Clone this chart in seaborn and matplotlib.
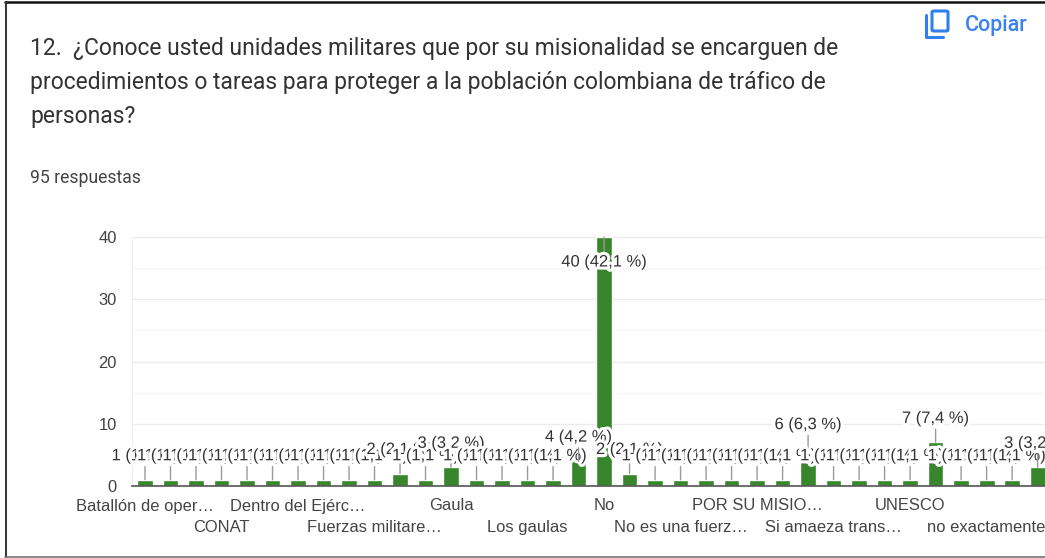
import matplotlib
matplotlib.use("Agg")
import matplotlib.pyplot as plt
import matplotlib.patheffects as pe
from matplotlib.patches import FancyBboxPatch
from matplotlib.lines import Line2D
import pandas as pd
import seaborn as sns

# ---- data -------------------------------------------------------------
TOTAL = 95
positions = list(range(36))
counts = [1, 1, 1, 1, 1, 1, 1, 1, 1, 1, 2, 1, 3, 1, 1, 1, 1, 4,
          40, 2, 1, 1, 1, 1, 1, 1, 6, 1, 1, 1, 1, 7, 1, 1, 1, 3]
label_pos = [0, 3, 6, 9, 12, 15, 18, 21, 24, 27, 30, 33]
label_txt = ["Batallón de oper…", "CONAT", "Dentro del Ejérc…", "Fuerzas militare…",
             "Gaula", "Los gaulas", "No", "No es una fuerz…", "POR SU MISIO…",
             "Si amaeza trans…", "UNESCO", "no exactamente"]
title_lines = ["12.  ¿Conoce usted unidades militares que por su misionalidad se encarguen de",
               "procedimientos o tareas para proteger a la población colombiana de tráfico de",
               "personas?"]
subtitle = "95 respuestas"
copy_label = "Copiar"
yticks = [0, 10, 20, 30, 40]

W, H = 1045, 558
sns.set_theme(style="white")
plt.rcParams["font.family"] = ["Liberation Sans", "DejaVu Sans"]
fig = plt.figure(figsize=(W / 100, H / 100), dpi=100, facecolor="white")

L, R, T, B = 132, 1045, 237, 486
ax = fig.add_axes([L / W, 1 - B / H, (R - L) / W, (B - T) / H])
df = pd.DataFrame({"pos": positions, "n": counts})
sns.barplot(data=df, x="pos", y="n", order=positions, color="#38862b", saturation=1,
            width=0.62, ax=ax, zorder=2)
ax.set_xlim(-0.51, 35.29)
ax.set_ylim(0, 40)
ax.set_xlabel("")
ax.set_ylabel("")
sns.despine(ax=ax, left=True, top=True, right=True)
ax.spines["bottom"].set_color("#555555")
ax.spines["bottom"].set_linewidth(1.2)
ax.spines["bottom"].set_zorder(6)
ax.set_yticks(yticks)
ax.set_yticks([5, 15, 25, 35], minor=True)
ax.grid(axis="y", which="major", color="#ececec", lw=1, zorder=0)
ax.grid(axis="y", which="minor", color="#f7f7f7", lw=1, zorder=0)
ax.axvline(-0.51, color="#ececec", lw=1.4, zorder=0)
ax.tick_params(axis="y", which="both", length=0, pad=11, labelsize=11.9, labelcolor="#444444")
ax.set_xticks(label_pos)
ax.set_xticklabels(label_txt)
ax.tick_params(axis="x", length=0, labelsize=11.9, labelcolor="#444444", pad=9)
for i, t in enumerate(ax.get_xticklabels()):
    if i % 2 == 1:
        t.set_y(-0.088)
    t.set_clip_on(False)

# ---- value labels with leader lines -----------------------------------
halo = [pe.withStroke(linewidth=4.5, foreground="white")]
for x, v in zip(positions, counts):
    txt = f"{v} ({v / TOTAL * 100:.1f} %)".replace(".", ",")
    offset = -25 if v == 40 else 24
    ax.annotate(txt, (x, v), xytext=(0, offset), textcoords="offset pixels",
                ha="center", va="center", fontsize=11.9, color="#333333",
                path_effects=halo, zorder=5, annotation_clip=False,
                arrowprops=dict(arrowstyle="-", color="#9a9a9a", lw=1, shrinkA=0, shrinkB=0))

# ---- header -----------------------------------------------------------
for line, y in zip(title_lines, [49, 83, 117]):
    fig.text(30 / W, 1 - y / H, line, fontsize=16.5, color="#333333", va="center",
             family="Roboto")
fig.text(30 / W, 1 - 178 / H, subtitle, fontsize=12.7, color="#444444", va="center",
         family="Roboto")
fig.text(965 / W, 1 - 26 / H, copy_label, fontsize=15.5, color="#3b82f0", va="center",
         family="Roboto", fontweight="medium")

# copy icon
blue = "#2f80ed"
fig.add_artist(FancyBboxPatch((932 / W, 1 - 31 / H), 16 / W, 20 / H,
                              boxstyle="round,pad=0,rounding_size=0.002",
                              transform=fig.transFigure, fc="white", ec=blue, lw=2.2))
fig.add_artist(Line2D([926 / W, 926 / W, 943 / W], [1 - 15 / H, 1 - 37 / H, 1 - 37 / H],
                      transform=fig.transFigure, color=blue, lw=2.2))

# screenshot frame
fig.add_artist(Line2D([5 / W, 1], [1 - 2 / H, 1 - 2 / H], transform=fig.transFigure, color="#111111", lw=1.8))
fig.add_artist(Line2D([5.5 / W, 5.5 / W], [1 - 557 / H, 1 - 2 / H], transform=fig.transFigure, color="#333333", lw=1.4))
fig.add_artist(Line2D([5 / W, 1], [1 - 557 / H, 1 - 557 / H], transform=fig.transFigure, color="#777777", lw=1.2))

fig.savefig("out.png", dpi=100)
